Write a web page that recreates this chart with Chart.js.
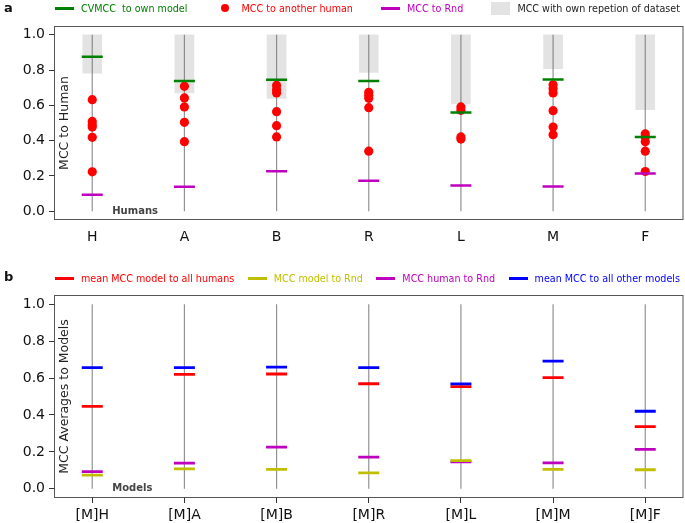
<!DOCTYPE html>
<html>
<head>
<meta charset="utf-8">
<script src="https://cdn.jsdelivr.net/npm/chart.js@4.4.1/dist/chart.umd.min.js"></script>
<style>
  body { margin: 0; background: #fff; font-family: "DejaVu Sans", sans-serif; }
  .panel { position: relative; width: 685px; }
  .panel canvas { display: block; }
  .tag { position: absolute; left: 4px; font-weight: bold; font-size: 13px; color: #111; }
  .legend { position: absolute; left: 55px; width: 625px; height: 16px; display: flex;
            justify-content: space-between; align-items: center; font-size: 9.6px; white-space: pre; }
  .legend .item { display: flex; align-items: center; }
  .legend .sw { width: 19px; height: 16px; margin-right: 7px; display: flex; justify-content: center; align-items: center; }
</style>
</head>
<body>
<div class="panel" style="height:260px">
  <canvas id="chartA" width="685" height="260"></canvas>
  <div class="tag" style="top:0px">a</div>
  <div class="legend" id="legendA" style="top:0px"></div>
</div>
<div class="panel" style="height:263px">
  <canvas id="chartB" width="685" height="263"></canvas>
  <div class="tag" style="top:9px">b</div>
  <div class="legend" id="legendB" style="top:10px"></div>
</div>
<script>
const humanLabels = ['H', 'A', 'B', 'R', 'L', 'M', 'F'];
const modelLabels = ['[M]H', '[M]A', '[M]B', '[M]R', '[M]L', '[M]M', '[M]F'];
const yTicks = [0, 0.2, 0.4, 0.6, 0.8, 1.0];

// panel a
const cvmccOwnModel = [0.875, 0.738, 0.745, 0.738, 0.560, 0.747, 0.421];
const ownRepetitionLow = [0.783, 0.670, 0.640, 0.787, 0.609, 0.808, 0.575]; // grey band runs up to 1.0
const mccToOtherHumans = [
    [0.632, 0.509, 0.490, 0.477, 0.419, 0.223],
    [0.708, 0.642, 0.591, 0.504, 0.394],
    [0.713, 0.689, 0.670, 0.564, 0.485, 0.421],
    [0.674, 0.657, 0.640, 0.587, 0.340],
    [0.591, 0.572, 0.421, 0.409],
    [0.717, 0.694, 0.670, 0.570, 0.477, 0.434],
    [0.438, 0.421, 0.394, 0.340, 0.225]
];
const mccHumanToRnd = [0.093, 0.139, 0.226, 0.172, 0.146, 0.140, 0.214];

// panel b
const meanModelToHumans = [0.447, 0.620, 0.622, 0.569, 0.553, 0.602, 0.337];
const mccModelToRnd = [0.074, 0.108, 0.105, 0.086, 0.153, 0.105, 0.103];
const meanToOtherModels = [0.656, 0.656, 0.659, 0.656, 0.568, 0.692, 0.420];

Chart.defaults.font.family = '"DejaVu Sans", sans-serif';

function points(values) {
    return values.map((v, i) => ({x: i, y: v}));
}
function hMarker(label, values, color, width) {
    return {
        label: label, data: points(values),
        borderColor: color, backgroundColor: color,
        pointStyle: 'line', pointRadius: 10.5, borderWidth: width
    };
}
function stems(n) {
    let d = [];
    for (let i = 0; i < n; i++)
        d.push({x: i, y: 0}, {x: i, y: 1}, {x: i, y: null});
    return {
        data: d, showLine: true, spanGaps: false, pointRadius: 0,
        borderColor: 'rgba(110,110,110,0.75)', borderWidth: 1.2
    };
}
function axes(labels, showXTicks, xHeight) {
    return {
        x: {
            type: 'linear', min: -0.415, max: 6.415, offset: false,
            afterBuildTicks: s => { s.ticks = labels.map((l, i) => ({value: i})); },
            ticks: { callback: v => labels[v], font: {size: 14}, color: '#111', padding: 4, autoSkip: false, maxRotation: 0 },
            grid: { offset: false, drawOnChartArea: false, tickLength: 5, color: showXTicks ? '#333' : 'rgba(0,0,0,0)' },
            border: { display: false },
            afterFit: s => { s.height = xHeight; s.paddingLeft = 0; s.paddingRight = 0; }
        },
        y: {
            min: -0.05, max: 1.05,
            afterBuildTicks: s => { s.ticks = yTicks.map(v => ({value: v})); },
            ticks: { callback: v => v.toFixed(1), font: {size: 14}, color: '#111', padding: 4 },
            grid: { drawOnChartArea: false, tickLength: 5, color: '#333' },
            border: { display: false },
            afterFit: s => { s.width = 54; }
        }
    };
}

// frame, y title inside the axes, and the little group label at y = 0
const panelText = {
    id: 'panelText',
    afterDatasetsDraw(chart, args, opts) {
        const {ctx, chartArea, scales} = chart;
        ctx.save();
        ctx.strokeStyle = '#555';
        ctx.lineWidth = 1;
        ctx.strokeRect(chartArea.left + 0.5, chartArea.top + 0.5, chartArea.width - 1, chartArea.height - 1);

        ctx.fillStyle = '#222';
        ctx.font = '12.5px "DejaVu Sans"';
        ctx.textAlign = 'center';
        ctx.textBaseline = 'middle';
        ctx.translate(chartArea.left + 11, (chartArea.top + chartArea.bottom) / 2);
        ctx.rotate(-Math.PI / 2);
        ctx.fillText(opts.yTitle, 0, 0);
        ctx.restore();

        ctx.save();
        ctx.fillStyle = '#444';
        ctx.font = 'bold 10px "DejaVu Sans"';
        ctx.textAlign = 'left';
        ctx.textBaseline = 'middle';
        ctx.fillText(opts.group, scales.x.getPixelForValue(0.217), scales.y.getPixelForValue(0));
        ctx.restore();
    }
};

function buildLegend(el, items) {
    el.innerHTML = items.map(it => {
        let sw;
        if (it.kind === 'line')
            sw = `<span style="width:19px;height:3px;background:${it.color}"></span>`;
        else if (it.kind === 'dot')
            sw = `<span style="width:8.5px;height:8.5px;border-radius:50%;background:${it.color}"></span>`;
        else
            sw = `<span style="width:19px;height:13px;background:${it.color}"></span>`;
        return `<span class="item" style="color:${it.text || it.color}"><span class="sw">${sw}</span>${it.label}</span>`;
    }).join('');
}

buildLegend(document.getElementById('legendA'), [
    {label: 'CVMCC  to own model', color: '#008000', kind: 'line'},
    {label: 'MCC to another human', color: '#ff0000', kind: 'dot'},
    {label: 'MCC to Rnd', color: '#bf00bf', kind: 'line'},
    {label: 'MCC with own repetion of dataset', color: '#e3e3e3', text: '#222', kind: 'box'}
]);
buildLegend(document.getElementById('legendB'), [
    {label: 'mean MCC model to all humans', color: '#ff0000', kind: 'line'},
    {label: 'MCC model to Rnd', color: '#bfbf00', kind: 'line'},
    {label: 'MCC human to Rnd', color: '#bf00bf', kind: 'line'},
    {label: 'mean MCC to all other models', color: '#0000ff', kind: 'line'}
]);

let humanDots = [];
mccToOtherHumans.forEach((vals, i) => vals.forEach(v => humanDots.push({x: i, y: v})));

new Chart(document.getElementById('chartA'), {
    type: 'scatter',
    data: {
        datasets: [
            hMarker('MCC to Rnd', mccHumanToRnd, '#bf00bf', 2.5),
            hMarker('CVMCC to own model', cvmccOwnModel, '#008000', 2.5),
            {
                label: 'MCC to another human', data: humanDots,
                backgroundColor: '#ff0000', borderWidth: 0, pointRadius: 4.6
            },
            stems(humanLabels.length),
            {
                type: 'bar', label: 'MCC with own repetion of dataset',
                data: ownRepetitionLow.map((v, i) => ({x: i, y: [v, 1]})),
                backgroundColor: '#e3e3e3', barThickness: 19
            }
        ]
    },
    options: {
        responsive: false, animation: false, events: [],
        layout: {padding: {top: 26, right: 1.5}, autoPadding: false},
        plugins: {
            legend: {display: false}, tooltip: {enabled: false},
            panelText: {yTitle: 'MCC to Human', group: 'Humans'}
        },
        scales: axes(humanLabels, false, 40)
    },
    plugins: [panelText]
});

new Chart(document.getElementById('chartB'), {
    type: 'scatter',
    data: {
        datasets: [
            hMarker('MCC model to Rnd', mccModelToRnd, '#bfbf00', 2.8),
            hMarker('MCC human to Rnd', mccHumanToRnd, '#bf00bf', 2.8),
            hMarker('mean MCC to all other models', meanToOtherModels, '#0000ff', 2.8),
            hMarker('mean MCC model to all humans', meanModelToHumans, '#ff0000', 2.8),
            stems(modelLabels.length)
        ]
    },
    options: {
        responsive: false, animation: false, events: [],
        layout: {padding: {top: 35, right: 1.5}, autoPadding: false},
        plugins: {
            legend: {display: false}, tooltip: {enabled: false},
            panelText: {yTitle: 'MCC Averages to Models', group: 'Models'}
        },
        scales: axes(modelLabels, true, 25)
    },
    plugins: [panelText]
});
</script>
</body>
</html>
